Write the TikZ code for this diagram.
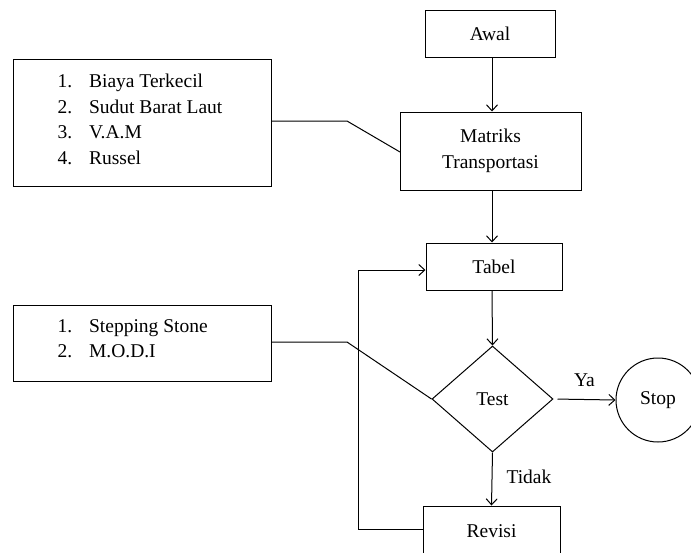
\documentclass[tikz,border=0pt]{standalone}
\usepackage{fontspec}
\setmainfont{Liberation Serif}
\usetikzlibrary{shapes.geometric,arrows.meta}
\begin{document}
\begin{tikzpicture}[x=1pt,y=-1pt,
  font=\fontsize{19.5}{25.5}\selectfont,
  line width=1pt,
  box/.style={draw,rectangle,inner sep=0pt,align=center},
  dec/.style={draw,diamond,inner sep=0pt},
  endc/.style={draw,circle,inner sep=0pt,minimum size=84pt},
  lst/.style={inner sep=0pt,anchor=west,align=left},
  arr/.style={-{Straight Barb[length=6pt,width=11pt,line width=1pt]}},
  lbl/.style={inner sep=0pt}]
\useasboundingbox (0,0) rectangle (691,552);
\clip (0,0) rectangle (691,552);
% main column
\node[box,minimum width=130pt,minimum height=47pt] (awal) at (490,33.5) {Awal};
\node[box,minimum width=181pt,minimum height=78pt] (mat) at (490.5,151) {Matriks\\[0pt]Transportasi};
\node[box,minimum width=136pt,minimum height=47pt] (tab) at (494,266.5) {Tabel};
\node[dec,minimum width=121pt,minimum height=106pt] (test) at (492.5,399) {Test};
\node[endc] (stop) at (658,400) {Stop};
\node[box,minimum width=137pt,minimum height=50pt] (rev) at (491.5,531) {Revisi};
% side boxes
\node[box,minimum width=258pt,minimum height=127pt] (m1) at (142,122.5) {};
\node[lst] (l1) at (57,121) {\begin{tabular}{@{}l@{\hspace{17pt}}l@{}}1.&Biaya Terkecil\\2.&Sudut Barat Laut\\3.&V.A.M\\4.&Russel\end{tabular}};
\node[box,minimum width=258pt,minimum height=76pt] (m2) at (142,343) {};
\node[lst] (l2) at (57,340) {\begin{tabular}{@{}l@{\hspace{17pt}}l@{}}1.&Stepping Stone\\2.&M.O.D.I\end{tabular}};
% connectors
\draw[arr] (awal.south -| 492,0) -- (mat.north -| 492,0);
\draw[arr] (mat.south -| 492,0) -- (tab.north -| 492,0);
\draw[arr] (tab.south -| 492,0) -- (test.north);
\coordinate (k1) at (347,121);
\draw (m1.east |- k1) -- (k1) -- (400,152);
\coordinate (k2) at (347,342);
\draw (m2.east |- k2) -- (k2) -- (test.west);
\coordinate (lp) at (358,0);
\draw[arr] (rev.west |- 0,529) -- (lp |- 0,529) -- (lp |- 0,270) -- (tab.west |- 0,270);
\draw[arr,shorten <=4pt] (test.east) -- (stop.west) node[lbl,midway,above=12pt] (ya) {Ya};
\draw[arr] (test.south) -- (rev.north) node[lbl,pos=0.45,right=14pt] (tidak) {Tidak};
\end{tikzpicture}
\end{document}
